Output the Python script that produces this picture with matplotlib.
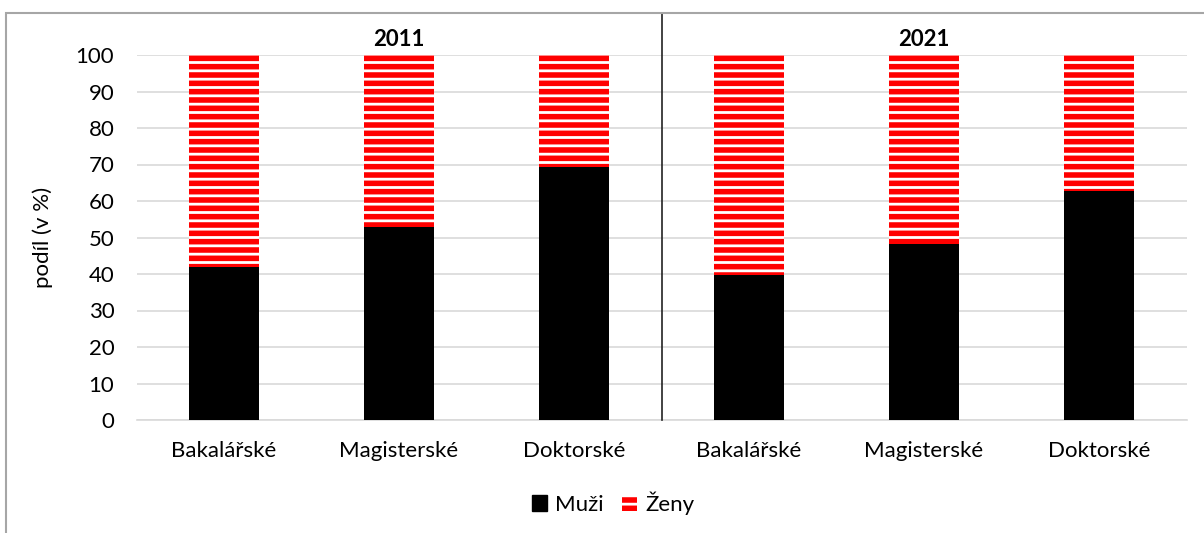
import matplotlib
matplotlib.use("Agg")
import matplotlib.pyplot as plt
from matplotlib.patches import Patch, Rectangle
import numpy as np

plt.rcParams['font.family'] = ['Lato', 'DejaVu Sans']
plt.rcParams['hatch.linewidth'] = 2.0
plt.rcParams['hatch.color'] = 'white'

years = ["2011", "2021"]
categories = ["Bakalářské", "Magisterské", "Doktorské", "Bakalářské", "Magisterské", "Doktorské"]
muzi = [42.0, 53.0, 69.3, 39.6, 48.3, 62.8]
zeny = [100 - v for v in muzi]
yticks = list(range(0, 101, 10))

FS = 16

fig = plt.figure(figsize=(12.04, 5.33), dpi=100)
ax = fig.add_axes([136.5/1204, 1-420/533, 1050/1204, 365/533])

x = np.arange(len(categories))
ax.bar(x, muzi, width=0.4, color='black', edgecolor='black', linewidth=0, zorder=3)
ax.bar(x, zeny, width=0.4, bottom=muzi, color='#ff0000', edgecolor='white',
       linewidth=0, hatch='--', zorder=3)

ax.set_xlim(-0.5, len(categories) - 0.5)
ax.set_ylim(0, 100)
ax.set_yticks(yticks)
ax.set_yticklabels([str(t) for t in yticks], fontsize=FS)
ax.set_xticks(x)
ax.set_xticklabels(categories, fontsize=FS)
ax.tick_params(axis='y', length=0, pad=16)
ax.tick_params(axis='x', length=0, pad=15)
ax.yaxis.grid(True, color='#d9d9d9', linewidth=1.2, zorder=0)
ax.set_axisbelow(True)
for s in ['top', 'right', 'left']:
    ax.spines[s].set_visible(False)
ax.spines['bottom'].set_color('#d9d9d9')
ax.spines['bottom'].set_linewidth(1.2)
ax.set_ylabel("podíl (v %)", fontsize=FS)
ax.yaxis.set_label_coords((53 - 136.5)/1050, 0.5)

# separator between years
ax.axvline(2.5, ymin=0, ymax=(420-13)/365, color='#222222', linewidth=1.2, clip_on=False, zorder=4)

# year titles
for i, yr in enumerate(years):
    ax.text(1 + 3*i, 1 + 15/365, yr, transform=ax.get_xaxis_transform(),
            ha='center', va='center', fontsize=FS, fontweight='bold')

# figure border
fig.add_artist(Rectangle((6/1204, -0.1), 1.2, (533-13)/533 + 0.1, transform=fig.transFigure,
                         fill=False, edgecolor='#a6a6a6', linewidth=1.5))

handles = [Patch(facecolor='black', edgecolor='black', label='Muži'),
           Patch(facecolor='#ff0000', edgecolor='white', hatch='--', linewidth=0, label='Ženy')]
fig.legend(handles=handles, loc='center', bbox_to_anchor=(613/1204, 1-503/533), ncol=2,
           frameon=False, fontsize=FS, handlelength=0.7, handleheight=0.7,
           handletextpad=0.35, columnspacing=0.8)

fig.savefig("out.png", dpi=100)
